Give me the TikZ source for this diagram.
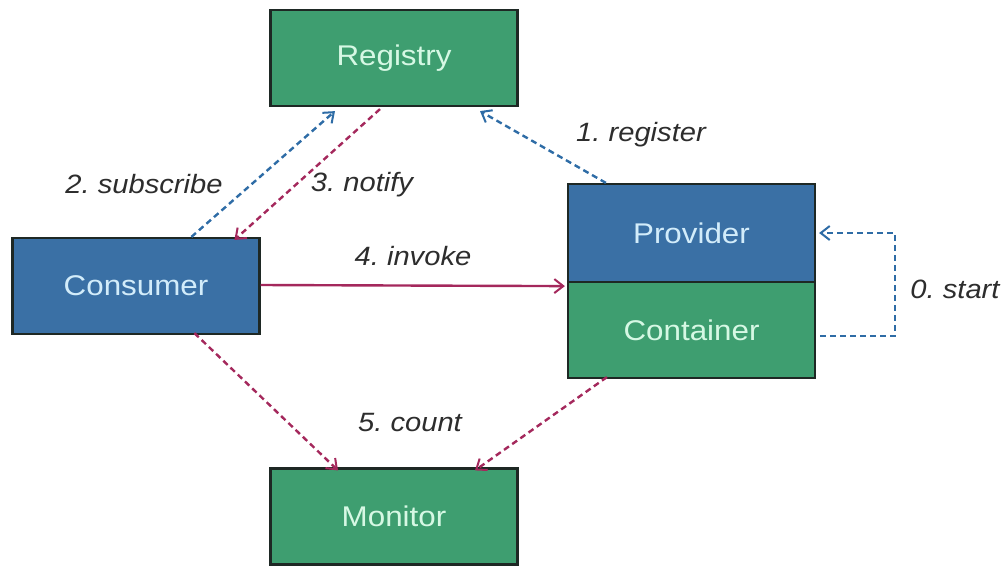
\documentclass[tikz,border=0pt]{standalone}
\usepackage{fontspec}
\setmainfont{Liberation Sans}[FakeStretch=1.1]
\usetikzlibrary{arrows.meta}
\frenchspacing
\definecolor{boxgreen}{RGB}{62,158,112}
\definecolor{boxblue}{RGB}{58,112,165}
\definecolor{txtgreen}{RGB}{214,248,228}
\definecolor{txtblue}{RGB}{210,236,250}
\definecolor{edgedark}{RGB}{30,40,36}
\definecolor{arrblue}{RGB}{46,108,166}
\definecolor{arrred}{RGB}{164,40,92}
\definecolor{lbl}{RGB}{45,45,45}
\tikzset{
  box/.style={draw=edgedark, line width=2.2pt, minimum width=247pt, minimum height=96pt, inner sep=0pt, font=\fontsize{28.5}{32}\selectfont},
  gbox/.style={box, fill=boxgreen, text=txtgreen},
  bbox/.style={box, fill=boxblue, text=txtblue},
  tipv/.style={-{Straight Barb[length=9pt,width=14pt,line width=2pt]}},
  bluedash/.style={draw=arrblue, line width=2.4pt, dash pattern=on 6pt off 4pt, tipv},
  reddash/.style={draw=arrred, line width=2.4pt, dash pattern=on 6pt off 4pt, tipv},
  redline/.style={draw=arrred, line width=2.4pt, tipv},
  lab/.style={text=lbl, font=\fontsize{26.5}{28}\selectfont\itshape, inner sep=0pt}
}
\begin{document}
\begin{tikzpicture}[x=1pt,y=-1pt]
\useasboundingbox (0,0) rectangle (1008,568);
\node[gbox] (reg) at (394,58) {Registry};
\node[bbox] (cons) at (136,286) {Consumer};
\node[bbox, minimum height=98pt] (prov) at (691.5,233) {Provider};
\node[gbox] (cont) at (691.5,330) {Container};
\node[gbox] (mon) at (394,516.5) {Monitor};
\coordinate (loopr) at (895,0);
% arrows
\draw[bluedash] ([xshift=180pt]cons.north west) -- ([xshift=-59pt,yshift=-4pt]reg.south);
\draw[reddash] ([xshift=-14pt,yshift=-2pt]reg.south) -- ([xshift=223pt,yshift=-3pt]cons.north west);
\draw[bluedash] ([xshift=39pt]prov.north west) -- ([xshift=86pt,yshift=-4pt]reg.south);
\draw[redline] ([yshift=1pt]cons.east) -- ([xshift=-2pt,yshift=-3pt]prov.south west);
\draw[bluedash] ([xshift=4pt,yshift=-6pt]cont.east) -| (loopr |- prov.east) -- ([xshift=3pt]prov.east);
\draw[reddash] ([xshift=183pt,yshift=2pt]cons.south west) -- ([xshift=-56pt,yshift=-3pt]mon.north);
\draw[reddash] ([xshift=40pt,yshift=2pt]cont.south west) -- ([xshift=81pt,yshift=-3pt]mon.north);
% labels
\node[lab] (l1) at (641,135) {1. register};
\node[lab] (l2) at (144,184) {2. subscribe};
\node[lab] (l3) at (362,185) {3. notify};
\node[lab] (l4) at (413,256) {4. invoke};
\node[lab] (l5) at (410,423) {5. count};
\node[lab] (l0) at (955,289) {0. start};
\end{tikzpicture}
\end{document}
